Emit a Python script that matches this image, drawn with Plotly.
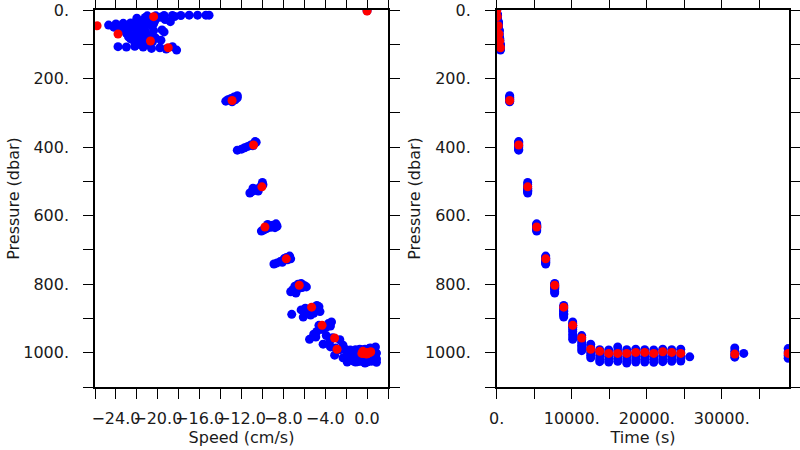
import plotly.graph_objects as go

# ---------------- data ----------------
# mean (red) profile: time (s), pressure (dbar), vertical speed (cm/s)
mean_time = [0, 80, 200, 300, 400, 500, 1730, 2930, 4130, 5330, 6530, 7730, 8930,
             10130, 11330, 12530, 13730, 14930, 16130, 17330, 18530, 19730, 20930,
             22130, 23330, 24530, 31730, 38850]
mean_pres = [3, 19.5, 46, 70, 90.5, 110, 264, 394, 516, 633, 726, 803, 867,
             920, 957, 990, 996, 1002, 1002, 1002, 999, 999, 1002,
             997, 999, 1002, 1004, 1002]
mean_speed = [0.0, -20.4, -25.8, -23.8, -20.7, -19.0, -12.9, -10.85, -10.05, -9.76, -7.72, -6.48, -5.3,
              -4.3, -3.1, -2.87, -0.4, -0.5, 0.1, 0.0, 0.3, -0.1, -0.3,
              0.35, -0.15, -0.25, -0.05, 0.05]

# individual samples (blue)
obs_time = (
    [0]
    + [100] * 15
    + [200] * 17
    + [300] * 13
    + [400] * 8
    + [500] * 11
    + [1730] * 8 + [2930] * 9 + [4130] * 9 + [5330] * 10 + [6530] * 10
    + [7730] * 10 + [8930] * 10 + [10130] * 10 + [11330] * 7 + [12530] * 6
    + [13730] * 5 + [14930] * 5 + [16130] * 5 + [17330] * 5 + [18530] * 5
    + [19730] * 5 + [20930] * 5 + [22130] * 5 + [23330] * 5 + [24530] * 5
    + [25730] + [31730] * 4 + [32930] + [38850] * 4
)
obs_pres = (
    [2]
    + [17, 17, 16, 16, 16, 15, 15, 15, 15, 21, 19, 24, 22, 34, 28]
    + [44, 41, 39, 38, 36, 35, 33, 50, 47, 45, 43, 42, 40, 52, 50, 48, 46]
    + [58, 60, 58, 62, 60, 58, 64, 68, 72, 70, 74, 78, 80]
    + [84, 88, 86, 82, 94, 96, 92, 88]
    + [107, 108, 106, 108, 112, 110, 114, 107, 117, 102, 101]
    + [250, 254, 258, 262, 266, 268, 256, 262]
    + [386, 390, 394, 398, 402, 406, 409, 396, 384]
    + [503, 510, 516, 522, 526, 530, 534, 528, 520]
    + [626, 628, 631, 635, 638, 642, 645, 630, 634, 624]
    + [718, 722, 726, 730, 734, 738, 741, 725, 736, 729]
    + [798, 800, 804, 808, 812, 816, 822, 826, 810, 806]
    + [862, 866, 870, 875, 880, 885, 890, 896, 888, 878]
    + [910, 915, 920, 926, 932, 938, 946, 954, 961, 922]
    + [950, 956, 962, 970, 978, 986, 994]
    + [975, 983, 991, 999, 1007, 1015]
    + [991, 1000, 1009, 1018, 1026]
    + [992, 1001, 1010, 1019, 1027]
    + [983, 995, 1006, 1016, 1025]
    + [991, 1001, 1011, 1021, 1030]
    + [990, 1000, 1009, 1018, 1027]
    + [991, 1000, 1010, 1019, 1027]
    + [992, 1001, 1010, 1019, 1028]
    + [990, 1000, 1009, 1018, 1026]
    + [991, 1000, 1010, 1019, 1025]
    + [990, 1000, 1009, 1018, 1024]
    + [1012]
    + [986, 996, 1006, 1013]
    + [1002]
    + [988, 998, 1008, 1016]
)
obs_speed = (
    [0.0]
    + [-21.0, -20.2, -19.4, -18.6, -17.8, -17.0, -16.2, -15.4, -15.1, -19.8, -18.4, -22.0, -21.2, -18.8, -19.3]
    + [-24.7, -24.0, -23.3, -22.6, -21.8, -21.0, -20.3, -24.2, -23.5, -22.8, -22.0, -21.2, -20.4, -23.0, -22.2, -21.4, -20.6]
    + [-23.5, -22.8, -22.0, -21.2, -20.4, -19.6, -19.4, -23.0, -22.2, -21.4, -20.6, -22.8, -21.8]
    + [-22.6, -21.8, -21.0, -20.2, -22.2, -21.4, -20.5, -19.7]
    + [-23.8, -23.0, -22.2, -21.4, -20.6, -19.8, -19.2, -18.6, -18.2, -20.8, -22.0]
    + [-12.4, -12.7, -13.0, -13.3, -13.5, -12.9, -12.4, -12.6]
    + [-10.6, -10.8, -11.1, -11.4, -11.7, -12.0, -12.4, -10.9, -10.7]
    + [-10.0, -9.95, -10.2, -10.5, -10.8, -11.0, -11.2, -10.4, -10.9]
    + [-9.5, -9.0, -8.6, -8.8, -9.6, -9.9, -10.1, -9.3, -9.2, -8.7]
    + [-7.4, -7.7, -7.3, -8.0, -8.3, -8.6, -8.9, -7.9, -8.1, -7.6]
    + [-6.3, -6.6, -6.0, -5.8, -6.5, -7.1, -7.3, -6.8, -6.2, -6.9]
    + [-4.8, -4.6, -5.9, -6.3, -4.5, -5.1, -5.4, -6.1, -7.2, -5.7]
    + [-3.4, -3.7, -4.6, -3.9, -4.3, -4.8, -5.1, -4.9, -5.5, -3.5]
    + [-3.9, -3.3, -2.6, -3.6, -2.3, -3.0, -2.0]
    + [-4.2, -3.5, -2.6, -1.9, -3.1, -2.3]
    + [-2.0, -1.2, -0.4, 0.3, -0.9]
    + [-1.6, -0.6, 0.6, -0.2, -1.1]
    + [0.8, -0.3, -1.0, 0.5, -0.7]
    + [-0.5, 0.9, -1.3, 0.1, -0.2]
    + [0.4, -0.8, 0.7, -1.5, 0.0]
    + [-1.1, 0.2, -0.5, 0.8, -1.9]
    + [0.6, -1.4, 0.0, -0.7, 0.9]
    + [-0.2, 0.5, -1.7, 0.2, -0.4]
    + [0.1, -0.9, 0.8, -0.6, 0.4]
    + [-0.7, 0.3, -0.1, 0.9, -1.3]
    + [-0.4]
    + [0.3, -0.6, 0.2, -0.3]
    + [0.1]
    + [0.2, -0.2, 0.5, -0.5]
)

speed_ticks = [-24, -20, -16, -12, -8, -4, 0]
speed_labels = ["\u221224.0", "\u221220.0", "\u221216.0", "\u221212.0", "\u22128.0", "\u22124.0", "0.0"]
speed_minor = [-26, -22, -18, -14, -10, -6, -2, 2]
pres_ticks = [0, 200, 400, 600, 800, 1000]
pres_labels = ["0.", "200.", "400.", "600.", "800.", "1000."]
pres_minor = [100, 300, 500, 700, 900, 1100]
time_ticks = [0, 10000, 20000, 30000]
time_labels = ["0.", "10000.", "20000.", "30000."]
time_minor = [5000, 15000, 25000, 35000]

# ---------------- figure ----------------
BLUE = "#0000ff"
RED = "#ff0000"
MS = 9
FONT = dict(family="DejaVu Sans", size=16, color="#1a1a1a")

fig = go.Figure()
fig.add_trace(go.Scatter(x=obs_speed, y=obs_pres, mode="markers",
                         marker=dict(color=BLUE, size=MS, line=dict(width=0)),
                         xaxis="x", yaxis="y", hoverinfo="skip"))
fig.add_trace(go.Scatter(x=mean_speed, y=mean_pres, mode="markers",
                         marker=dict(color=RED, size=MS, line=dict(width=0)),
                         xaxis="x", yaxis="y", hoverinfo="skip"))
fig.add_trace(go.Scatter(x=obs_time, y=obs_pres, mode="markers",
                         marker=dict(color=BLUE, size=MS, line=dict(width=0)),
                         xaxis="x2", yaxis="y2", hoverinfo="skip"))
fig.add_trace(go.Scatter(x=mean_time, y=mean_pres, mode="markers",
                         marker=dict(color=RED, size=MS, line=dict(width=0)),
                         xaxis="x2", yaxis="y2", hoverinfo="skip"))

common = dict(showline=True, linecolor="black", linewidth=1.5, mirror="ticks",
              ticks="outside", ticklen=10, tickwidth=1.3, tickcolor="black",
              showgrid=False, zeroline=False, tickfont=FONT, tickmode="array",
              tickangle=0, automargin=False)
minor_common = dict(ticks="outside", ticklen=10, tickwidth=1.3, tickcolor="black", showgrid=False)

ydom = [1 - 387 / 450, 1 - 10 / 450]

fig.update_layout(
    width=800, height=450,
    margin=dict(l=0, r=0, t=0, b=0, autoexpand=False),
    paper_bgcolor="white", plot_bgcolor="white",
    showlegend=False,
    xaxis=dict(common, domain=[95 / 800, 388 / 800], range=[-26, 2], anchor="y",
               tickvals=speed_ticks, ticktext=speed_labels,
               minor=dict(minor_common, tickvals=speed_minor),
               ticklabelstandoff=6,
               title=dict(text="Speed (cm/s)", font=FONT, standoff=4)),
    yaxis=dict(common, domain=ydom, range=[1100, 0], anchor="x",
               tickvals=pres_ticks, ticktext=pres_labels,
               minor=dict(minor_common, tickvals=pres_minor),
               ticklabelstandoff=11,
               title=dict(text="Pressure (dbar)", font=FONT, standoff=0)),
    xaxis2=dict(common, domain=[496.7 / 800, 789.3 / 800], range=[0, 39000], anchor="y2",
                tickvals=time_ticks, ticktext=time_labels,
                minor=dict(minor_common, tickvals=time_minor),
                ticklabelstandoff=6,
                title=dict(text="Time (s)", font=FONT, standoff=4)),
    yaxis2=dict(common, domain=ydom, range=[1100, 0], anchor="x2",
                tickvals=pres_ticks, ticktext=pres_labels,
                minor=dict(minor_common, tickvals=pres_minor),
                ticklabelstandoff=11,
                title=dict(text="Pressure (dbar)", font=FONT, standoff=0)),
)

fig.write_html("out.html", config={"displayModeBar": False},
               post_script="document.body.style.margin='0px';")
